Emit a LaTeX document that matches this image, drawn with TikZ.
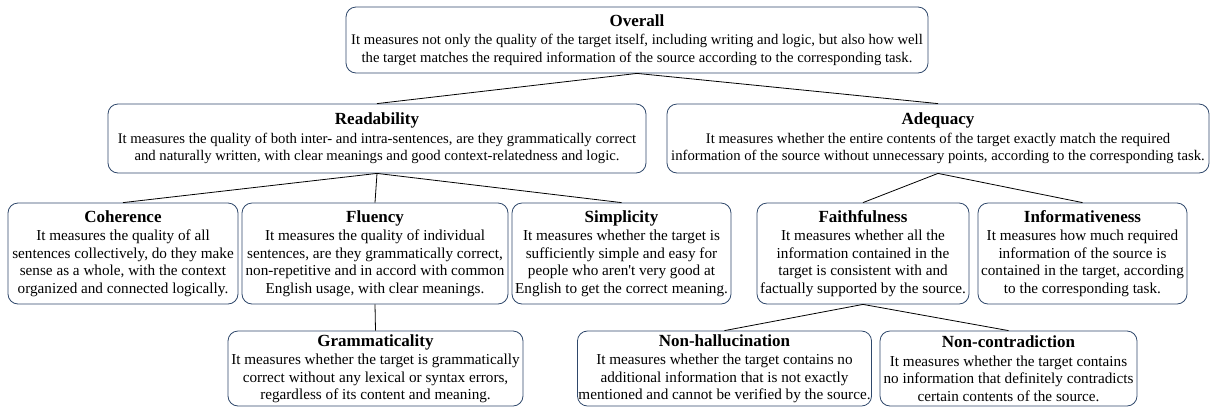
\documentclass[tikz,border=0pt]{standalone}
\usepackage{fontspec}
\setmainfont{Liberation Serif}
\definecolor{boxline}{RGB}{47,72,107}
\newcommand{\ttl}[1]{{\fontsize{17}{19}\selectfont\bfseries #1}\\[1pt]}

\begin{document}
\begin{tikzpicture}[
			x = 1pt, y = -1pt,
			box/.style = {draw = boxline, line width = 0.8pt, rounded corners = 10pt,
				align = center, inner sep = 1pt,
				font = \fontsize{15.2}{17.5}\selectfont},
			bigbox/.style = {box, font = \fontsize{14.7}{17.5}\selectfont},
			link/.style = {draw = black, line width = 0.8pt}
			]

			\useasboundingbox (0,0) rectangle (1213,408);

			% top level
			\node[bigbox, minimum width = 582, minimum height = 66] (overall) at (637,40) {\ttl{Overall}
				It measures not only the quality of the target itself, including writing and logic, but also how well\\
				the target matches the required information of the source according to the corresponding task.};

			% second level
			\node[bigbox, minimum width = 538, minimum height = 69] (readab) at (377,138.5) {\ttl{Readability}
				It measures the quality of both inter- and intra-sentences, are they grammatically correct\\
				and naturally written, with clear meanings and good context-relatedness and logic.};
			\node[bigbox, minimum width = 542, minimum height = 69] (adequ) at (938,138.5) {\ttl{Adequacy}
				It measures whether the entire contents of the target exactly match the required\\
				information of the source without unnecessary points, according to the corresponding task.};

			% third level
			\node[box, minimum width = 230, minimum height = 101] (coher) at (123,253.5) {\ttl{Coherence}
				It measures the quality of all\\ sentences collectively, do they make\\
				sense as a whole, with the context\\ organized and connected logically.};
			\node[box, minimum width = 266, minimum height = 101] (fluen) at (375,253.5) {\ttl{Fluency}
				It measures the quality of individual\\ sentences, are they grammatically correct,\\
				non-repetitive and in accord with common\\ English usage, with clear meanings.};
			\node[box, minimum width = 219, minimum height = 101] (simpl) at (621.5,253.5) {\ttl{Simplicity}
				It measures whether the target is\\ sufficiently simple and easy for\\
				people who aren\textquotesingle t very good at\\ English to get the correct meaning.};
			\node[box, minimum width = 212, minimum height = 101] (faith) at (863,253.5) {\ttl{Faithfulness}
				It measures whether all the\\ information contained in the\\
				target is consistent with and\\ factually supported by the source.};
			\node[box, minimum width = 209, minimum height = 101] (inform) at (1082.5,253.5) {\ttl{Informativeness}
				It measures how much required\\ information of the source is\\
				contained in the target, according\\ to the corresponding task.};

			% fourth level
			\node[box, minimum width = 295, minimum height = 75] (gramm) at (375.5,368.5) {\ttl{Grammaticality}
				It measures whether the target is grammatically\\ correct without any lexical or syntax errors,\\
				regardless of its content and meaning.};
			\node[box, minimum width = 293, minimum height = 75] (nonhal) at (724.5,368.5) {\ttl{Non-hallucination}
				It measures whether the target contains no\\ additional information that is not exactly\\
				mentioned and cannot be verified by the source.};
			\node[box, minimum width = 257, minimum height = 75] (noncon) at (1008.5,368.5) {\ttl{Non-contradiction}
				It measures whether the target contains\\ no information that definitely contradicts\\
				certain contents of the source.};

			\foreach \a/\b in {overall/readab, overall/adequ, readab/coher, readab/fluen, readab/simpl,
				adequ/faith, adequ/inform, fluen/gramm, faith/nonhal, faith/noncon}{
				\draw[link] (\a.south) -- (\b.north);
			}

		\end{tikzpicture}
\end{document}
